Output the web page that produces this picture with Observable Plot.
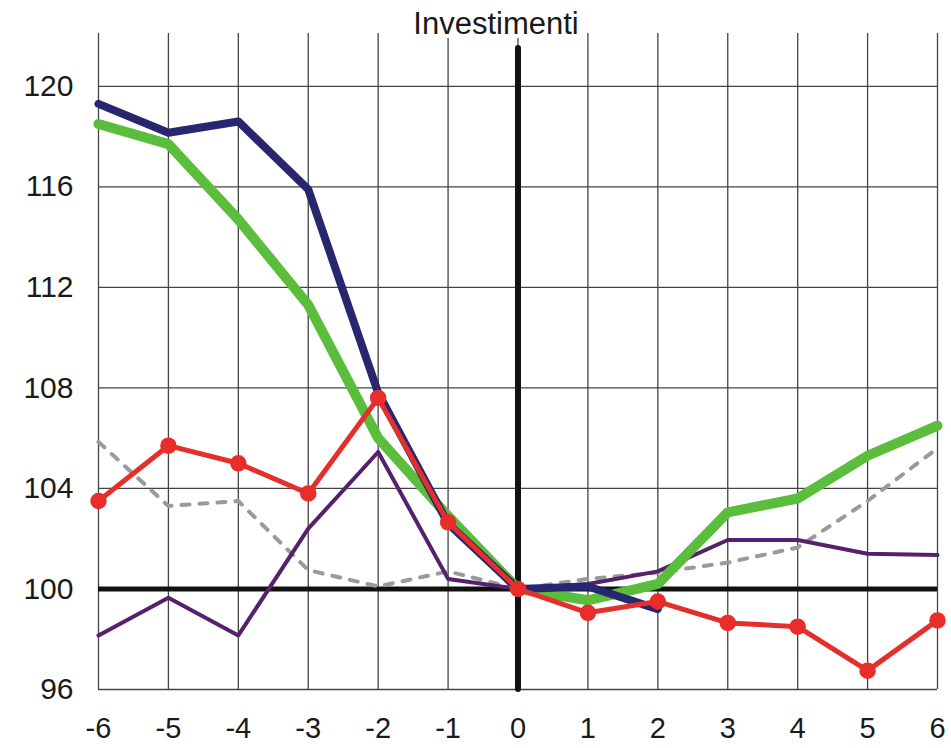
<!DOCTYPE html>
<html><head><meta charset="utf-8">
<script src="https://cdn.jsdelivr.net/npm/d3@7"></script>
<script src="https://cdn.jsdelivr.net/npm/@observablehq/plot@0.6"></script>
<style>body{margin:0;background:#fff}</style>
</head><body><div id="chart"></div>
<script>
const title = "Investimenti";
const periods = [-6,-5,-4,-3,-2,-1,0,1,2,3,4,5,6];
const xTicks = periods;
const yTicks = [96,100,104,108,112,116,120];
const baseline = 100;
const seriesNavy   = [119.3,118.15,118.6,115.9,107.8,102.6,100,100.1,99.2,null,null,null,null];
const seriesGreen  = [118.5,117.7,114.7,111.3,106.0,102.9,100,99.55,100.2,103.05,103.6,105.3,106.5];
const seriesRed    = [103.5,105.7,105.0,103.8,107.6,102.65,100,99.05,99.5,98.65,98.5,96.75,98.75];
const seriesPurple = [98.15,99.65,98.15,102.4,105.45,100.4,100,100.2,100.7,101.95,101.95,101.4,101.35];
const seriesGray   = [105.85,103.3,103.5,100.75,100.1,100.7,100,100.4,100.65,101.05,101.65,103.5,105.6];

const toRows = (vals) => periods.map((x, i) => ({x, y: vals[i]})).filter(d => d.y != null);
const fmt = d => String(d);

const chart = Plot.plot({
  width: 951, height: 748,
  marginTop: 33, marginRight: 14, marginBottom: 59, marginLeft: 98,
  style: {fontFamily: "'Liberation Sans', Arial, sans-serif", fontSize: "30px", color: "#1a1a1a", background: "#fff"},
  x: {domain: [-6, 6]},
  y: {domain: [96, 122.1]},
  marks: [
    Plot.ruleY(yTicks, {stroke: "#444", strokeWidth: 1.3}),
    Plot.ruleX(xTicks, {stroke: "#444", strokeWidth: 1.3}),
    Plot.axisY(yTicks, {tickSize: 0, tickPadding: 25, fontSize: 30, tickFormat: fmt, label: null}),
    Plot.axisX(xTicks, {tickSize: 0, tickPadding: 28, fontSize: 29, tickFormat: fmt, label: null}),
    Plot.ruleY([baseline], {stroke: "#111", strokeWidth: 5}),
    Plot.ruleX([0], {y1: 96, y2: 121.5, stroke: "#111", strokeWidth: 6, strokeLinecap: "round"}),
    Plot.line(toRows(seriesGray), {x: "x", y: "y", stroke: "#9a9a9a", strokeWidth: 4, strokeDasharray: "8,10"}),
    Plot.line(toRows(seriesPurple), {x: "x", y: "y", stroke: "#56206c", strokeWidth: 4}),
    Plot.line(toRows(seriesGreen), {x: "x", y: "y", stroke: "#5bbd3c", strokeWidth: 10, strokeLinecap: "round"}),
    Plot.line(toRows(seriesNavy), {x: "x", y: "y", stroke: "#28266f", strokeWidth: 8, strokeLinecap: "round"}),
    Plot.line(toRows(seriesRed), {x: "x", y: "y", stroke: "#e3302c", strokeWidth: 5}),
    Plot.dot(toRows(seriesRed), {x: "x", y: "y", r: 7.5, fill: "#e82d2a", stroke: "#e82d2a"}),
    Plot.text([title], {frameAnchor: "top", dx: -22, dy: -9, lineAnchor: "middle", fontSize: 31, fill: "#1a1a1a", stroke: "white", strokeWidth: 8})
  ]
});
document.getElementById("chart").appendChild(chart);
</script>
</body></html>
